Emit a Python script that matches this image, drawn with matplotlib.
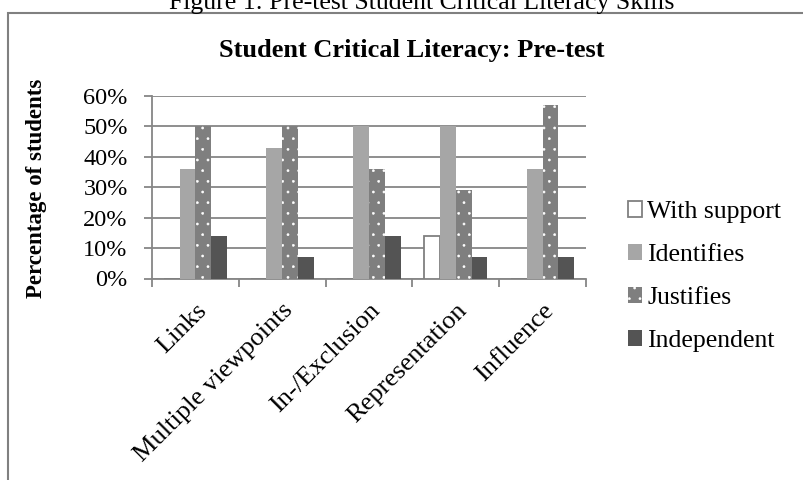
import matplotlib
matplotlib.use('Agg')
import matplotlib.pyplot as plt
from matplotlib.patches import Rectangle
from matplotlib.ticker import FuncFormatter, FixedLocator

plt.rcParams['font.family'] = ['Liberation Serif', 'DejaVu Serif']

# data (percent of students)
categories = ["Links", "Multiple viewpoints", "In-/Exclusion", "Representation", "Influence"]
with_support = [0, 0, 0, 14, 0]
identifies = [36, 43, 50, 50, 36]
justifies = [50, 50, 36, 29, 57]
independent = [14, 7, 14, 7, 7]
series_names = ["With support", "Identifies", "Justifies", "Independent"]
yticks = [0, 10, 20, 30, 40, 50, 60]

grid_col = '#868686'

# low dpi so the dot hatch comes out as dense as the excel pattern;
# every size in points is scaled by S to keep the pixel sizes
DPI = 64
S = 100 / DPI
plt.rcParams['hatch.linewidth'] = 0.6

fig = plt.figure(figsize=(803/DPI, 480/DPI), dpi=DPI)
ax = fig.add_axes([152/803, 1-278.5/480, (586-152)/803, (278.5-96)/480])

n = len(categories)
centers = [i + 0.5 for i in range(n)]
w = 1/5.5  # excel gap width 150%

b1 = ax.bar([c - 1.5*w for c in centers], with_support, w, facecolor='white',
            edgecolor='#808080', linewidth=1.3*S, label=series_names[0], zorder=3)
b2 = ax.bar([c - 0.5*w for c in centers], identifies, w, color='#A6A6A6',
            linewidth=0, label=series_names[1], zorder=3)
b3 = ax.bar([c + 0.5*w for c in centers], justifies, w, facecolor='#7F7F7F',
            edgecolor='white', linewidth=0, hatch='.', label=series_names[2], zorder=3)
b4 = ax.bar([c + 1.5*w for c in centers], independent, w, color='#545454',
            linewidth=0, label=series_names[3], zorder=3)

ax.set_xlim(0, n)
ax.set_ylim(0, 60)
ax.set_yticks(yticks)
ax.yaxis.set_major_formatter(FuncFormatter(lambda v, p: "%d%%" % v))
ax.yaxis.grid(True, color=grid_col, linewidth=1.3*S)
ax.set_axisbelow(True)

for s in ['top', 'right']:
    ax.spines[s].set_visible(False)
for s in ['left', 'bottom']:
    ax.spines[s].set_color(grid_col)
    ax.spines[s].set_linewidth(1.3*S)

ax.set_xticks(centers)
ax.set_xticklabels(categories, rotation=45, ha='right', va='top',
                   rotation_mode='anchor', fontsize=19*S)
ax.xaxis.set_minor_locator(FixedLocator(range(n + 1)))
ax.tick_params(axis='x', which='major', length=0, pad=15*S)
ax.tick_params(axis='x', which='minor', length=5.5*S, width=1.3*S, color=grid_col)
ax.tick_params(axis='y', length=5.5*S, width=1.3*S, color=grid_col, pad=12*S,
               labelsize=17.5*S)

fig.text(37/803, 1-188/480, "Percentage of students", rotation=90, fontsize=16.5*S,
         fontweight='bold', ha='center', va='center')
fig.text(412/803, 1-57/480, "Student Critical Literacy: Pre-test", fontsize=19*S,
         fontweight='bold', ha='center', va='baseline')
fig.text(422/803, 1-9.5/480, "Figure 1: Pre-test Student Critical Literacy Skills",
         fontsize=18.5*S, ha='center', va='baseline')

fig.legend(handles=[b1, b2, b3, b4], loc='upper left',
           bbox_to_anchor=(628/803, 1-201/480), frameon=False, fontsize=18.5*S,
           handlelength=0.55, handleheight=0.55, handletextpad=0.2,
           labelspacing=0.82, borderaxespad=0, borderpad=0)

fig.add_artist(Rectangle((8/803, -0.1), 1.2, 1-12.5/480+0.1, transform=fig.transFigure,
                         fill=False, edgecolor='#808080', linewidth=1.5*S))

fig.savefig("out.png", dpi=DPI)
